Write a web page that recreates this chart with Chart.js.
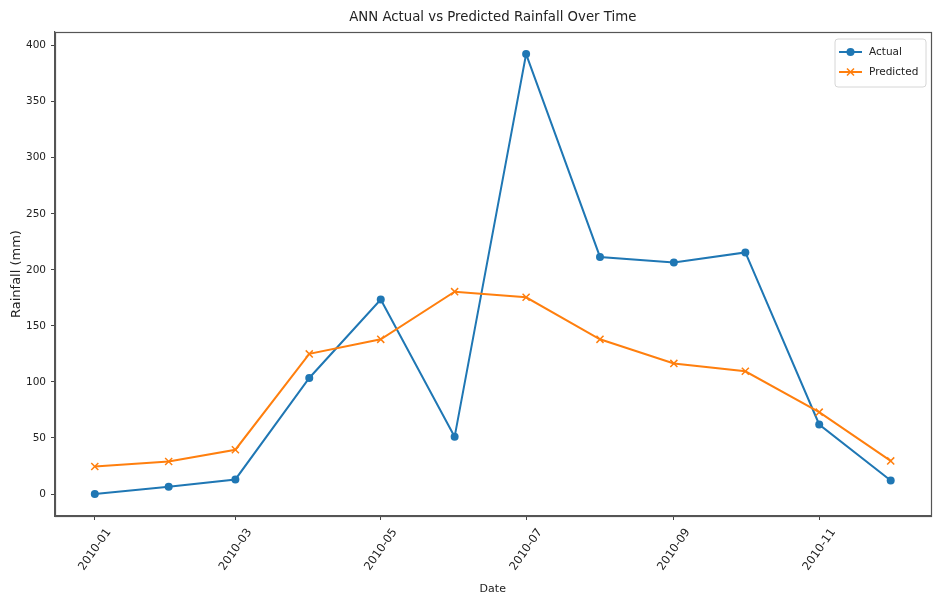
<!DOCTYPE html>
<html>
<head>
<meta charset="utf-8">
<script src="https://cdn.jsdelivr.net/npm/chart.js@4/dist/chart.umd.min.js"></script>
<style>
  html, body { margin: 0; padding: 0; background: #ffffff; }
  #wrap { width: 937px; height: 598px; position: relative; }
</style>
</head>
<body>
<div id="wrap"><canvas id="c"></canvas></div>
<script>
// ---- data ----
const dates = ['2010-01-01','2010-02-01','2010-03-01','2010-04-01','2010-05-01','2010-06-01',
               '2010-07-01','2010-08-01','2010-09-01','2010-10-01','2010-11-01','2010-12-01'];
const actual    = [0, 6.5, 13, 103.5, 173.5, 51, 392.5, 211.5, 206.5, 215.5, 62, 12];
const predicted = [24.5, 29, 39.5, 125, 138, 180.5, 175.5, 138, 116.5, 109.5, 73, 29.5];
const xTickLabels = ['2010-01','2010-03','2010-05','2010-07','2010-09','2010-11'];
const yTicks = [0, 50, 100, 150, 200, 250, 300, 350, 400];
const seriesNames = ['Actual', 'Predicted'];

const FONT = "'DejaVu Sans', 'Liberation Sans', sans-serif";
const BLUE = '#1f77b4', ORANGE = '#ff7f0e';
const T0 = Date.UTC(2010, 0, 1);
const dayOf = s => { const p = s.split('-').map(Number); return (Date.UTC(p[0], p[1]-1, p[2] || 1) - T0) / 86400000; };
const xs = dates.map(dayOf);
const xTickVals = xTickLabels.map(dayOf);
const xSpan = xs[xs.length-1] - xs[0];
const allY = actual.concat(predicted);
const yLo = Math.min(...allY), yHi = Math.max(...allY);
const ySpan = yHi - yLo;

const spines = {
  id: 'spines',
  afterDraw(chart) {
    const {ctx, chartArea: a} = chart;
    ctx.save();
    ctx.strokeStyle = '#555';
    ctx.lineWidth = 1.2;
    ctx.strokeRect(Math.round(a.left)+0.5, Math.round(a.top)+0.5, Math.round(a.right-a.left), Math.round(a.bottom-a.top));
    ctx.restore();
  }
};

const mplLegend = {
  id: 'mplLegend',
  afterDraw(chart) {
    const {ctx} = chart;
    const x = 835, y = 39, w = 91, h = 48;
    ctx.save();
    ctx.beginPath();
    const r = 3;
    ctx.moveTo(x+r, y); ctx.lineTo(x+w-r, y); ctx.quadraticCurveTo(x+w, y, x+w, y+r);
    ctx.lineTo(x+w, y+h-r); ctx.quadraticCurveTo(x+w, y+h, x+w-r, y+h);
    ctx.lineTo(x+r, y+h); ctx.quadraticCurveTo(x, y+h, x, y+h-r);
    ctx.lineTo(x, y+r); ctx.quadraticCurveTo(x, y, x+r, y);
    ctx.closePath();
    ctx.fillStyle = 'rgba(255,255,255,0.8)';
    ctx.fill();
    ctx.strokeStyle = '#d6d6d6';
    ctx.lineWidth = 1;
    ctx.stroke();
    chart.data.datasets.forEach((ds, i) => {
      const ly = 52 + i * 20;
      ctx.strokeStyle = ds.borderColor;
      ctx.lineWidth = 2;
      ctx.beginPath(); ctx.moveTo(839, ly); ctx.lineTo(862, ly); ctx.stroke();
      if (ds.pointStyle === 'circle') {
        ctx.fillStyle = ds.borderColor;
        ctx.beginPath(); ctx.arc(850.5, ly, 4, 0, Math.PI*2); ctx.fill();
      } else {
        ctx.lineWidth = 1.5;
        ctx.beginPath();
        ctx.moveTo(847, ly-3.5); ctx.lineTo(854, ly+3.5);
        ctx.moveTo(854, ly-3.5); ctx.lineTo(847, ly+3.5);
        ctx.stroke();
      }
      ctx.fillStyle = '#222';
      ctx.font = '10.5px ' + FONT;
      ctx.textBaseline = 'middle';
      ctx.textAlign = 'left';
      ctx.fillText(ds.label, 869, ly);
    });
    ctx.restore();
  }
};

new Chart(document.getElementById('c'), {
  type: 'line',
  data: {
    datasets: [
      {
        label: seriesNames[0],
        data: xs.map((x, i) => ({x, y: actual[i]})),
        borderColor: BLUE, backgroundColor: BLUE,
        borderWidth: 2, pointStyle: 'circle', pointRadius: 4,
        pointBorderWidth: 0, pointHoverRadius: 4, tension: 0, order: 1
      },
      {
        label: seriesNames[1],
        data: xs.map((x, i) => ({x, y: predicted[i]})),
        borderColor: ORANGE, backgroundColor: ORANGE,
        borderWidth: 2, pointStyle: 'crossRot', pointRadius: 5,
        pointBorderWidth: 1.5, pointHoverRadius: 5, tension: 0, order: 0
      }
    ]
  },
  options: {
    responsive: true,
    maintainAspectRatio: false,
    animation: false,
    devicePixelRatio: 1,
    layout: { padding: { left: 0, right: 5, top: 0, bottom: 0 } },
    plugins: {
      legend: { display: false },
      tooltip: { enabled: false },
      title: {
        display: true,
        fullSize: false,
        text: 'ANN Actual vs Predicted Rainfall Over Time',
        color: '#222',
        font: { family: FONT, size: 13.3, weight: 'normal' },
        padding: { top: 9.3, bottom: 6.8 }
      }
    },
    scales: {
      x: {
        type: 'linear',
        min: xs[0] - 0.05 * xSpan,
        max: xs[xs.length-1] + 0.05 * xSpan,
        afterBuildTicks: s => { s.ticks = xTickVals.map(v => ({value: v})); },
        afterFit: s => { s.height = 82; },
        grid: { display: true, drawOnChartArea: false, drawTicks: true, tickLength: 4, color: '#444', lineWidth: 1 },
        border: { display: true, color: '#555', width: 1.2 },
        ticks: {
          color: '#222', font: { family: FONT, size: 11.5 },
          minRotation: 55, maxRotation: 55, autoSkip: false, padding: 6, labelOffset: 14,
          callback: v => { const i = xTickVals.indexOf(v); return i >= 0 ? xTickLabels[i] : ''; }
        },
        title: { display: true, text: 'Date', color: '#222', font: { family: FONT, size: 11 }, padding: { top: 0, bottom: 2.5 } }
      },
      y: {
        type: 'linear',
        min: yLo - 0.05 * ySpan,
        max: yHi + 0.05 * ySpan,
        afterBuildTicks: s => { s.ticks = yTicks.map(v => ({value: v})); },
        afterFit: s => { s.width = 55; },
        grid: { display: true, drawOnChartArea: false, drawTicks: true, tickLength: 4, color: '#444', lineWidth: 1 },
        border: { display: true, color: '#555', width: 1.2 },
        ticks: { color: '#222', font: { family: FONT, size: 10.5 }, padding: 5 },
        title: { display: true, text: 'Rainfall (mm)', color: '#222', font: { family: FONT, size: 13 }, padding: { top: 9, bottom: 0 } }
      }
    }
  },
  plugins: [spines, mplLegend]
});
</script>
</body>
</html>
